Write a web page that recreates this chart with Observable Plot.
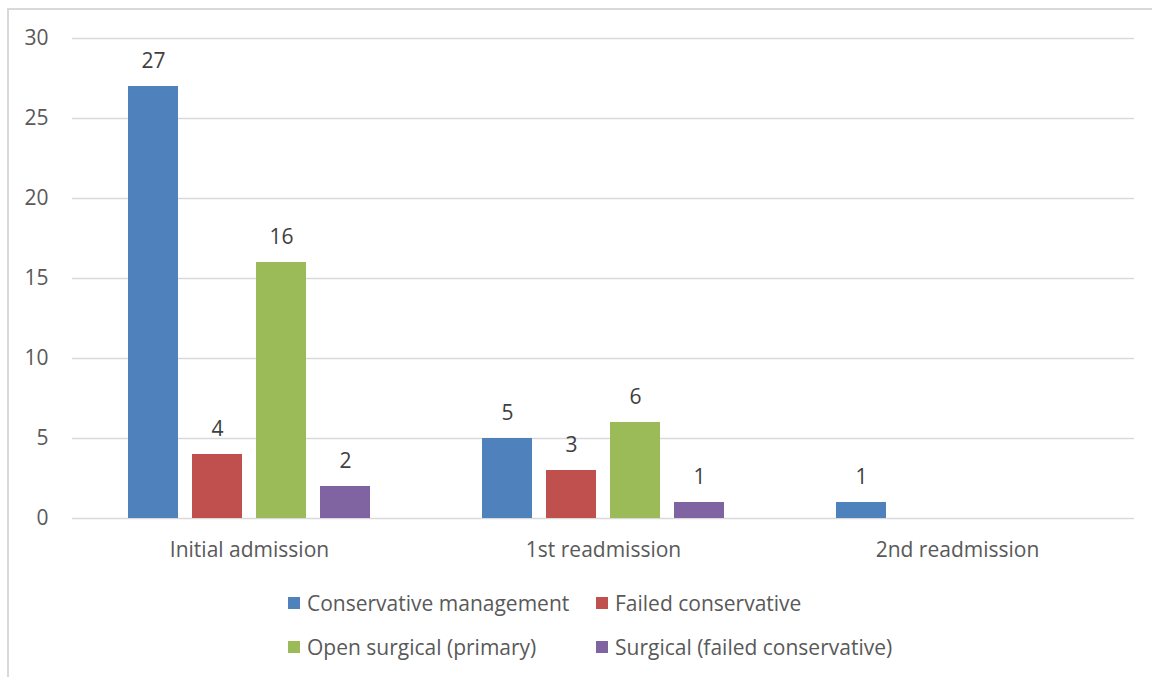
<!DOCTYPE html>
<html>
<head>
<meta charset="utf-8">
<script src="https://cdn.jsdelivr.net/npm/d3@7"></script>
<script src="https://cdn.jsdelivr.net/npm/@observablehq/plot@0.6"></script>
<style>
  html, body { margin: 0; padding: 0; background: #fff; }
  #wrap { position: relative; width: 1152px; height: 677px; overflow: hidden; font-family: "Open Sans", Lato, sans-serif; color: #595959; }
  #frame { position: absolute; left: 7px; top: 8px; width: 1200px; height: 700px; border-left: 2px solid #d9d9d9; border-top: 2px solid #d9d9d9; box-sizing: border-box; }
  #chart { position: absolute; left: 0; top: 0; }
  #legend { position: absolute; left: 288px; top: 589px; display: grid; grid-template-columns: 308px auto; row-gap: 16px; font-size: 21px; }
  .item { display: flex; align-items: center; height: 28px; }
  .sw { width: 12px; height: 12px; margin-right: 7px; flex: none; }
</style>
</head>
<body>
<div id="wrap">
  <div id="frame"></div>
  <div id="chart"></div>
  <div id="legend"></div>
</div>
<script>
const categories = ["Initial admission", "1st readmission", "2nd readmission"];
const seriesNames = ["Conservative management", "Failed conservative", "Open surgical (primary)", "Surgical (failed conservative)"];
const seriesColors = ["#4F81BD", "#C0504D", "#9BBB59", "#8064A2"];
const conservativeManagement = [27, 5, 1];
const failedConservative = [4, 3, null];
const openSurgicalPrimary = [16, 6, null];
const surgicalFailedConservative = [2, 1, null];
const yTicks = [0, 5, 10, 15, 20, 25, 30];

const seriesValues = [conservativeManagement, failedConservative, openSurgicalPrimary, surgicalFailedConservative];
const data = [];
categories.forEach((c, i) => {
  seriesNames.forEach((s, j) => {
    const v = seriesValues[j][i];
    if (v != null) data.push({category: c, series: s, value: v});
  });
});

const chart = Plot.plot({
  width: 1152,
  height: 578,
  marginTop: 38,
  marginBottom: 60,
  marginLeft: 71,
  marginRight: 18,
  style: {fontFamily: "'Open Sans', Lato, sans-serif", fontSize: "21px", color: "#595959", background: "transparent"},
  fx: {domain: categories, padding: 0, label: null, axis: "bottom", tickSize: 0, tickPadding: 24},
  x: {domain: seriesNames, axis: null, paddingInner: 0.21875, paddingOuter: 0.86},
  y: {domain: [0, 30], ticks: yTicks, label: null, tickSize: 0, tickPadding: 24},
  color: {domain: seriesNames, range: seriesColors},
  marks: [
    Plot.gridY(yTicks, {stroke: "#d9d9d9", strokeOpacity: 1, strokeWidth: 1.3}),
    Plot.barY(data, {fx: "category", x: "series", y: "value", fill: "series"}),
    Plot.text(data, {fx: "category", x: "series", y: "value", text: d => String(d.value), dy: -25, fill: "#404040", fontSize: 21})
  ]
});
document.getElementById("chart").appendChild(chart);

const legend = document.getElementById("legend");
seriesNames.forEach((s, j) => {
  const item = document.createElement("div");
  item.className = "item";
  const sw = document.createElement("span");
  sw.className = "sw";
  sw.style.background = seriesColors[j];
  const t = document.createElement("span");
  t.textContent = s;
  item.appendChild(sw);
  item.appendChild(t);
  legend.appendChild(item);
});
</script>
</body>
</html>
